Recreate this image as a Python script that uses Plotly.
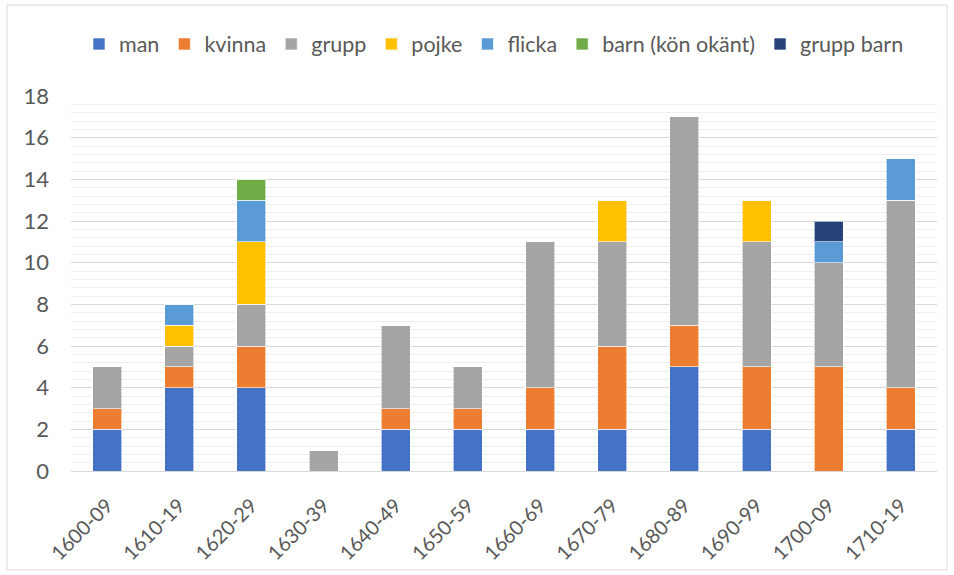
import plotly.graph_objects as go

categories = ["1600-09", "1610-19", "1620-29", "1630-39", "1640-49", "1650-59",
              "1660-69", "1670-79", "1680-89", "1690-99", "1700-09", "1710-19"]
man        = [2, 4, 4, 0, 2, 2, 2, 2, 5, 2, 0, 2]
kvinna     = [1, 1, 2, 0, 1, 1, 2, 4, 2, 3, 5, 2]
grupp      = [2, 1, 2, 1, 4, 2, 7, 5, 10, 6, 5, 9]
pojke      = [0, 1, 3, 0, 0, 0, 0, 2, 0, 2, 0, 0]
flicka     = [0, 1, 2, 0, 0, 0, 0, 0, 0, 0, 1, 2]
barn       = [0, 0, 1, 0, 0, 0, 0, 0, 0, 0, 0, 0]
grupp_barn = [0, 0, 0, 0, 0, 0, 0, 0, 0, 0, 1, 0]

series = [
    ("man", man, "#4472C4"),
    ("kvinna", kvinna, "#ED7D31"),
    ("grupp", grupp, "#A5A5A5"),
    ("pojke", pojke, "#FFC000"),
    ("flicka", flicka, "#5B9BD5"),
    ("barn (kön okänt)", barn, "#70AD47"),
    ("grupp barn", grupp_barn, "#264478"),
]

fig = go.Figure()
for name, vals, col in series:
    fig.add_trace(go.Bar(
        name=name, x=categories, y=vals,
        marker=dict(color=col, line=dict(color="rgba(255,255,255,0.6)", width=1)),
    ))

L, R, T, B = 71, 17, 96, 104
W, H = 954, 575
pw, ph = W - L - R, H - T - B

fig.update_layout(
    width=W, height=H,
    barmode="stack", bargap=0.6,
    margin=dict(l=L, r=R, t=T, b=B),
    paper_bgcolor="white", plot_bgcolor="white",
    font=dict(family="Lato, Open Sans, sans-serif", size=21, color="#595959"),
    legend=dict(orientation="h", x=(494 - L) / pw, xanchor="center",
                y=1 + (96 - 44) / ph, yanchor="middle",
                font=dict(size=21.5, color="#595959"), traceorder="normal",
                itemwidth=30),
    showlegend=True,
)
fig.update_xaxes(
    type="category",
    showgrid=False, showline=True, linecolor="#d9d9d9", linewidth=1,
    tickangle=-45, ticks="", tickfont=dict(size=20, color="#595959"),
    ticklabelstandoff=14,
)
fig.update_yaxes(
    range=[0, 18], dtick=2, showgrid=True, gridcolor="#d9d9d9", gridwidth=1,
    zeroline=False, showline=False, ticks="",
    tickfont=dict(size=22, color="#595959"),
    ticklabelstandoff=21,
    minor=dict(dtick=0.4, showgrid=True, gridcolor="#efefef", gridwidth=1),
)
fig.add_shape(type="rect", xref="paper", yref="paper",
              x0=(7 - L) / pw, x1=(947 - L) / pw,
              y0=1 - (570 - T) / ph, y1=1 + (T - 5) / ph,
              line=dict(color="#d9d9d9", width=1), fillcolor="rgba(0,0,0,0)", layer="below")

fig.write_html("out.html", config={"displayModeBar": False},
               post_script="document.body.style.margin='0';")
